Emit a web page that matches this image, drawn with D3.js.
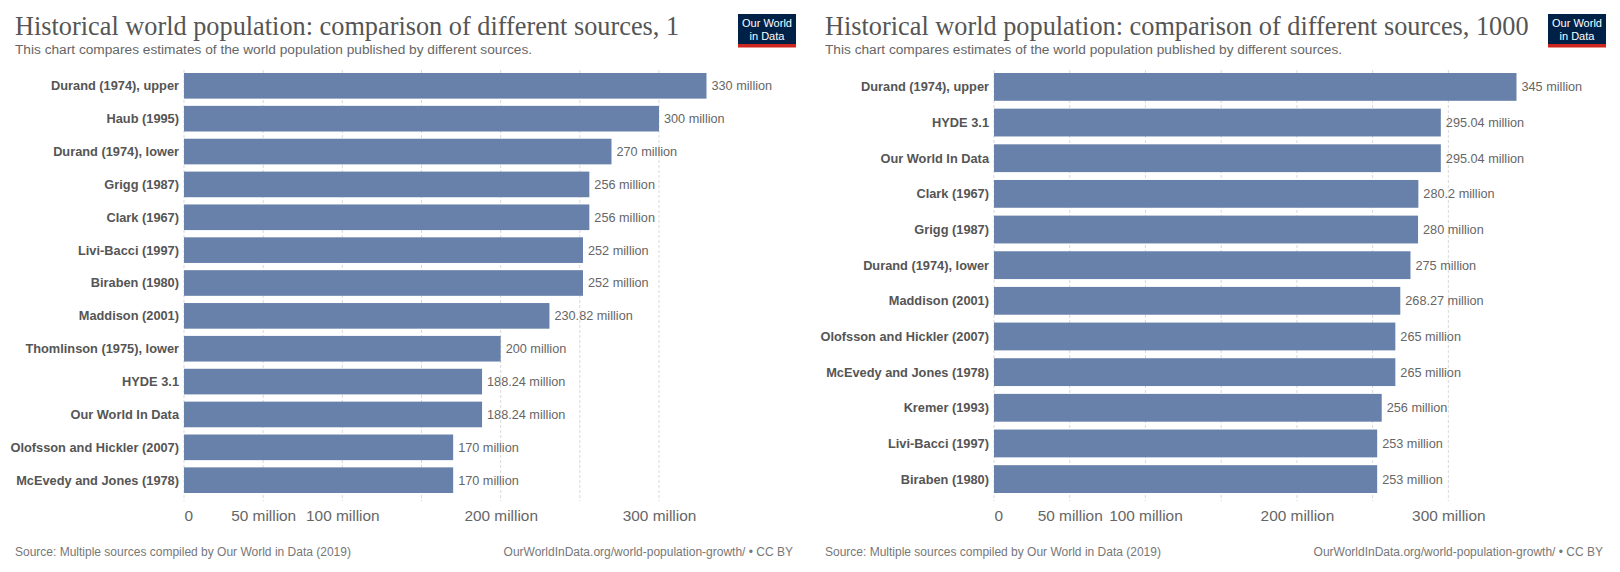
<!DOCTYPE html>
<html>
<head>
<meta charset="utf-8">
<script src="https://cdn.jsdelivr.net/npm/d3@7"></script>
<style>
  body { margin: 0; background: #fff; }
  svg { display: block; font-family: "Liberation Sans", Arial, sans-serif; }
</style>
</head>
<body>
<svg id="chart" width="1620" height="572"></svg>
<script>
// year 1 estimates
const sourcesYear1 = ["Durand (1974), upper", "Haub (1995)", "Durand (1974), lower", "Grigg (1987)",
  "Clark (1967)", "Livi-Bacci (1997)", "Biraben (1980)", "Maddison (2001)", "Thomlinson (1975), lower",
  "HYDE 3.1", "Our World In Data", "Olofsson and Hickler (2007)", "McEvedy and Jones (1978)"];
const popYear1 = [330, 300, 270, 256, 256, 252, 252, 230.82, 200, 188.24, 188.24, 170, 170];

// year 1000 estimates
const sourcesYear1000 = ["Durand (1974), upper", "HYDE 3.1", "Our World In Data", "Clark (1967)",
  "Grigg (1987)", "Durand (1974), lower", "Maddison (2001)", "Olofsson and Hickler (2007)",
  "McEvedy and Jones (1978)", "Kremer (1993)", "Livi-Bacci (1997)", "Biraben (1980)"];
const popYear1000 = [345, 295.04, 295.04, 280.2, 280, 275, 268.27, 265, 265, 256, 253, 253];

const tickValues = [0, 50, 100, 200, 300];
const gridValues = [0, 50, 100, 150, 200, 250, 300];

const subtitle = "This chart compares estimates of the world population published by different sources.";
const sourceNote = "Source: Multiple sources compiled by Our World in Data (2019)";
const urlNote = "OurWorldInData.org/world-population-growth/ • CC BY";

const svg = d3.select("#chart");
const barColor = "#6881ab";

function fmt(v) {
  return (Math.round(v * 100) / 100) + " million";
}

function drawPanel(offsetX, year, categories, values) {
  const g = svg.append("g").attr("transform", `translate(${offsetX},0)`);

  g.append("text")
    .attr("x", 15).attr("y", 35)
    .style("font-family", "'Liberation Serif', 'DejaVu Serif', serif")
    .style("font-size", "26.3px")
    .style("fill", "#555")
    .text("Historical world population: comparison of different sources, " + year);

  g.append("text")
    .attr("x", 15).attr("y", 54)
    .style("font-size", "13.7px")
    .style("fill", "#666")
    .text(subtitle);

  // logo
  g.append("rect").attr("x", 738).attr("y", 14).attr("width", 58).attr("height", 30).attr("fill", "#002147");
  g.append("rect").attr("x", 738).attr("y", 44).attr("width", 58).attr("height", 3.5).attr("fill", "#ce261e");
  g.append("text").attr("x", 767).attr("y", 27).attr("text-anchor", "middle")
    .style("font-size", "11px").style("fill", "#fff").text("Our World");
  g.append("text").attr("x", 767).attr("y", 40).attr("text-anchor", "middle")
    .style("font-size", "11px").style("fill", "#fff").text("in Data");

  const x = d3.scaleLinear().domain([0, d3.max(values)]).range([184, 706.5]);
  const y = d3.scaleBand().domain(categories).range([73, 493]).paddingInner(0.22).paddingOuter(0);

  // gridlines
  g.selectAll(".grid").data(gridValues).enter().append("line")
    .attr("x1", d => x(d)).attr("x2", d => x(d))
    .attr("y1", 70).attr("y2", 501)
    .attr("stroke", "#d9d9d9")
    .attr("stroke-dasharray", "3,2")
    .attr("stroke-width", 1);

  // bars
  const rows = categories.map((c, i) => ({ name: c, value: values[i] }));
  g.selectAll(".bar").data(rows).enter().append("rect")
    .attr("x", x(0))
    .attr("y", d => y(d.name))
    .attr("width", d => x(d.value) - x(0))
    .attr("height", y.bandwidth())
    .attr("fill", barColor);

  g.selectAll(".val").data(rows).enter().append("text")
    .attr("x", d => x(d.value) + 5)
    .attr("y", d => y(d.name) + y.bandwidth() / 2)
    .attr("dy", "0.35em")
    .style("font-size", "12.7px")
    .style("fill", "#666")
    .text(d => fmt(d.value));

  g.selectAll(".cat").data(rows).enter().append("text")
    .attr("x", x(0) - 5)
    .attr("y", d => y(d.name) + y.bandwidth() / 2)
    .attr("dy", "0.35em")
    .attr("text-anchor", "end")
    .style("font-size", "12.8px")
    .style("font-weight", "bold")
    .style("fill", "#555")
    .text(d => d.name);

  // x axis labels
  const axis = d3.axisBottom(x).tickValues(tickValues)
    .tickFormat(d => d === 0 ? "0" : d + " million").tickSize(0).tickPadding(0);
  const ax = g.append("g").attr("transform", "translate(0,510)").call(axis);
  ax.select(".domain").remove();
  ax.selectAll("text")
    .attr("dy", "0.71em")
    .style("font-family", "'Liberation Sans', Arial, sans-serif")
    .style("font-size", "15.4px")
    .style("fill", "#666")
    .attr("text-anchor", d => d === 0 ? "start" : "middle");

  // footer
  g.append("text").attr("x", 15).attr("y", 556)
    .style("font-size", "12px").style("fill", "#777").text(sourceNote);
  g.append("text").attr("x", 793).attr("y", 556).attr("text-anchor", "end")
    .style("font-size", "12px").style("fill", "#777").text(urlNote);
}

drawPanel(0, 1, sourcesYear1, popYear1);
drawPanel(810, 1000, sourcesYear1000, popYear1000);
</script>
</body>
</html>
